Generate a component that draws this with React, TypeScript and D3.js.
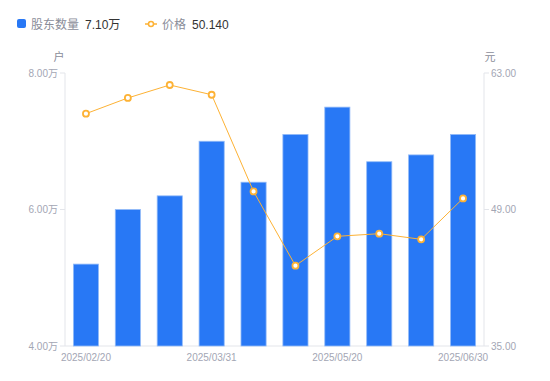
import React from "react";
import * as d3 from "d3";

const categories = ["2025/02/20","2025/03/10","2025/03/20","2025/03/31","2025/04/10","2025/04/30","2025/05/20","2025/06/10","2025/06/20","2025/06/30"];
const holders = [5.2, 6.0, 6.2, 7.0, 6.4, 7.1, 7.5, 6.7, 6.8, 7.1];
const prices = [58.83, 60.44, 61.77, 60.77, 50.85, 43.24, 46.25, 46.52, 45.94, 50.14];
const leftTicks = [4, 6, 8];
const rightTicks = [35, 49, 63];
const shownLabels = [0, 3, 6, 9];

const W = 550, H = 381;
const L = 65, R = 484, T = 73, B = 346;
const FONT = "'Liberation Sans', 'Noto Sans CJK SC', sans-serif";

export default function App() {
  const x = d3.scaleBand<number>().domain(d3.range(categories.length)).range([L, R]).paddingInner(0.4).paddingOuter(0.2);
  const xc = d3.scaleBand<number>().domain(d3.range(categories.length)).range([L, R]);
  const yL = d3.scaleLinear().domain([4, 8]).range([B, T]);
  const yR = d3.scaleLinear().domain([35, 63]).range([B, T]);
  const line = d3.line<number>().x((_, i) => xc(i)! + xc.bandwidth() / 2).y(d => yR(d));
  const axisColor = "#e3e5ea";
  const tickText = "#a3a6b4";
  return (
    <svg width={W} height={H} style={{ position: "absolute", left: 0, top: 0, fontFamily: FONT }}>
      <rect width={W} height={H} fill="#fff" />
      {/* legend */}
      <rect x={17} y={19} width={9} height={9} rx={2} fill="#2878f5" />
      <text x={31} y={28.5} fontSize={12} fill="#8a8d99">股东数量</text>
      <text x={85} y={28.5} fontSize={12} fill="#333">7.10万</text>
      <line x1={145} x2={157} y1={24} y2={24} stroke="#fdb235" strokeWidth={1.5} />
      <circle cx={151} cy={24} r={2.5} fill="#fff" stroke="#fdb235" strokeWidth={1.5} />
      <text x={162} y={28.5} fontSize={12} fill="#8a8d99">价格</text>
      <text x={192} y={28.5} fontSize={12} fill="#333">50.140</text>
      {/* axis names */}
      <text x={59} y={61} fontSize={11} fill="#8a8d99" textAnchor="middle">户</text>
      <text x={490} y={61} fontSize={11} fill="#8a8d99" textAnchor="middle">元</text>
      {/* axes */}
      <line x1={L} x2={L} y1={T} y2={B} stroke={axisColor} />
      <line x1={R} x2={R} y1={T} y2={B} stroke={axisColor} />
      <line x1={L} x2={R} y1={B} y2={B} stroke={axisColor} />
      {leftTicks.map(t => (
        <g key={"l" + t}>
          <line x1={L - 5} x2={L} y1={yL(t)} y2={yL(t)} stroke={axisColor} />
          <text x={L - 7} y={yL(t) + 3.5} fontSize={10} fill={tickText} textAnchor="end">{t.toFixed(2)}万</text>
        </g>
      ))}
      {rightTicks.map(t => (
        <g key={"r" + t}>
          <line x1={R} x2={R + 5} y1={yR(t)} y2={yR(t)} stroke={axisColor} />
          <text x={R + 7} y={yR(t) + 3.5} fontSize={10} fill={tickText}>{t.toFixed(2)}</text>
        </g>
      ))}
      {shownLabels.map(i => (
        <text key={"x" + i} x={xc(i)! + xc.bandwidth() / 2} y={361} fontSize={10} fill={tickText} textAnchor="middle">{categories[i]}</text>
      ))}
      {/* bars */}
      {holders.map((v, i) => (
        <rect key={"b" + i} x={x(i)} y={yL(v)} width={x.bandwidth()} height={B - yL(v)} fill="#2878f5" stroke="#93bbf8" strokeWidth={0.8} />
      ))}
      {/* line */}
      <path d={line(prices)!} fill="none" stroke="#fdb235" strokeWidth={1} />
      {prices.map((v, i) => (
        <circle key={"p" + i} cx={xc(i)! + xc.bandwidth() / 2} cy={yR(v)} r={3} fill="#fff" stroke="#fdb235" strokeWidth={1.8} />
      ))}
    </svg>
  );
}
